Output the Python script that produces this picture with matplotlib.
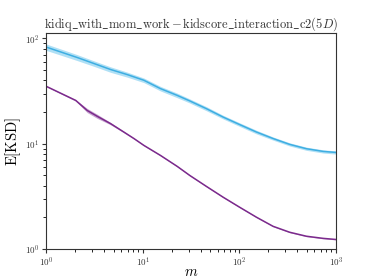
import matplotlib
matplotlib.use("Agg")
import matplotlib.pyplot as plt
import numpy as np

plt.rcParams["font.family"] = "serif"
plt.rcParams["font.serif"] = ["cmr10", "DejaVu Serif"]
plt.rcParams["mathtext.fontset"] = "cm"
plt.rcParams["axes.formatter.use_mathtext"] = True

# values
m_cyan = [1, 2.11, 3.14, 4.67, 6.93, 10.3, 15.3, 22.8, 30.8, 45.9, 68.2, 101, 151, 224, 333, 496, 738, 1000]
ksd_cyan = [83, 65.9, 57.8, 50.7, 45.4, 40.1, 33.4, 28.8, 25.5, 21.5, 17.9, 15.2, 12.9, 11.2, 9.85, 8.96, 8.45, 8.26]
rel_cyan = [0.07, 0.065, 0.06, 0.06, 0.055, 0.05, 0.05, 0.05, 0.045, 0.045, 0.04, 0.04, 0.04, 0.035, 0.035, 0.035, 0.035, 0.035]

m_purple = [1, 2.03, 2.67, 3.4, 4.67, 6.4, 8.13, 10.3, 15.3, 22.8, 30.8, 45.9, 68.2, 101, 151, 224, 333, 496, 738, 1000]
ksd_purple = [35.2, 25.8, 20.7, 18.2, 15.5, 12.9, 11.2, 9.64, 7.74, 6.09, 4.99, 3.92, 3.10, 2.49, 2.00, 1.64, 1.44, 1.32, 1.26, 1.23]
rel_purple = [0.01, 0.015, 0.045, 0.045, 0.025, 0.015, 0.01, 0.01, 0.01, 0.01, 0.01, 0.01, 0.01, 0.01, 0.01, 0.01, 0.01, 0.01, 0.01, 0.01]

fig = plt.figure(figsize=(3.74, 2.8), dpi=100)
ax = fig.add_axes([0.123, 0.111, 0.775, 0.770])

for m, v, r, c_band, c_line in [
    (m_cyan, ksd_cyan, rel_cyan, "#8fd3f2", "#3eaee2"),
    (m_purple, ksd_purple, rel_purple, "#b07fbd", "#7b2a8c"),
]:
    v = np.array(v)
    r = np.array(r)
    ax.fill_between(m, v * (1 - r), v * (1 + r), color=c_band, alpha=0.7, lw=0)
    ax.plot(m, v, color=c_line, lw=1.1)

ax.set_xscale("log")
ax.set_yscale("log")
ax.set_xlim(1, 1000)
ax.set_ylim(1, 112)
ax.tick_params(labelsize=6.5, colors="#333333", labelcolor="#333333", pad=2)
ax.tick_params(which="minor", length=2)
ax.tick_params(which="major", length=3)
for sp in ax.spines.values():
    sp.set_color("#333333")

ax.set_xlabel(r"$m$", fontsize=10.5, labelpad=-3)
ax.set_ylabel(r"$\mathrm{E[KSD]}$", fontsize=10.5, labelpad=1)
ax.set_title(r"$\mathrm{kidiq\_with\_mom\_work} - \mathrm{kidscore\_interaction\_c2}(5D)$",
             fontsize=9, color="#333333", pad=3)

fig.savefig("out.png", dpi=100)
